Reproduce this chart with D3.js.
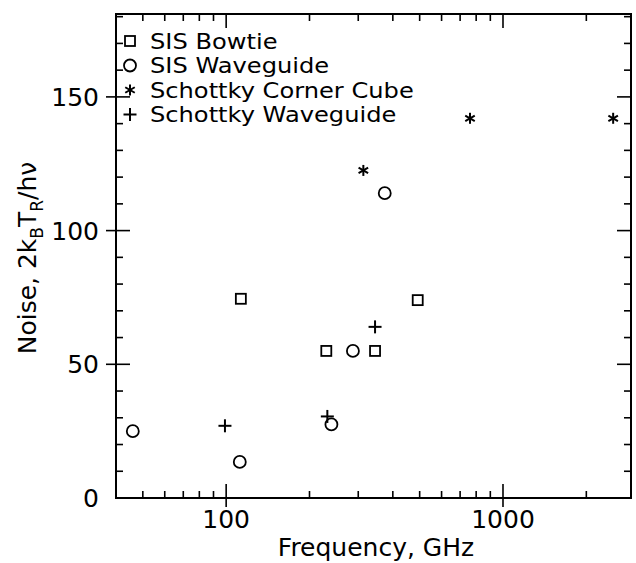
<!DOCTYPE html>
<html>
<head>
<meta charset="utf-8">
<script src="https://cdn.jsdelivr.net/npm/d3@7"></script>
<style>
  body { margin: 0; background: #fff; }
  text { font-family: 'DejaVu Sans', sans-serif; fill: #000; }
</style>
</head>
<body>
<svg id="chart" width="636" height="563"></svg>
<script>
// values (GHz, noise in units of hv/2k)
const sisBowtie = [[113, 74.5], [230, 55], [345, 55], [492, 74]]
const sisWaveguide = [[46, 25], [112, 13.5], [240, 27.5], [287, 55], [374, 114]]
const schottkyCube = [[313, 122.5], [760, 142], [2500, 142]]
const schottkyWaveguide = [[99, 27], [232, 30.5], [345, 64]]

const legendLabels = ['SIS Bowtie', 'SIS Waveguide', 'Schottky Corner Cube', 'Schottky Waveguide']
const xMajor = [100, 1000]
const xMinor = [40, 50, 60, 70, 80, 90, 200, 300, 400, 500, 600, 700, 800, 900, 2000]
const yMajor = [0, 50, 100, 150]
const yMinor = d3.range(10, 181, 10).filter(v => v % 50 !== 0)

const pLeft = 116, pRight = 631, pTop = 14, pBottom = 498
const fs = 25

const x = d3.scaleLog().domain([40, 2900]).range([pLeft, pRight])
const y = d3.scaleLinear().domain([0, 181]).range([pBottom, pTop])

const svg = d3.select('#chart')

// frame
svg.append('rect')
  .attr('x', pLeft).attr('y', pTop)
  .attr('width', pRight - pLeft).attr('height', pBottom - pTop)
  .attr('fill', 'none').attr('stroke', '#000').attr('stroke-width', 2)

const ticks = svg.append('g').attr('stroke', '#000').attr('stroke-width', 1.6)

// x ticks, bottom and top
xMinor.forEach(v => {
  ticks.append('line').attr('x1', x(v)).attr('x2', x(v)).attr('y1', pBottom).attr('y2', pBottom - 7)
  ticks.append('line').attr('x1', x(v)).attr('x2', x(v)).attr('y1', pTop).attr('y2', pTop + 7)
})
xMajor.forEach(v => {
  ticks.append('line').attr('x1', x(v)).attr('x2', x(v)).attr('y1', pBottom + 9).attr('y2', pBottom - 14)
  ticks.append('line').attr('x1', x(v)).attr('x2', x(v)).attr('y1', pTop).attr('y2', pTop + 14)
})

// y ticks, left and right
yMinor.forEach(v => {
  ticks.append('line').attr('x1', pLeft).attr('x2', pLeft + 7).attr('y1', y(v)).attr('y2', y(v))
  ticks.append('line').attr('x1', pRight).attr('x2', pRight - 7).attr('y1', y(v)).attr('y2', y(v))
})
yMajor.filter(v => v > 0).forEach(v => {
  ticks.append('line').attr('x1', pLeft - 10).attr('x2', pLeft + 14).attr('y1', y(v)).attr('y2', y(v))
  ticks.append('line').attr('x1', pRight).attr('x2', pRight - 14).attr('y1', y(v)).attr('y2', y(v))
})

// tick labels
svg.append('g').selectAll('text').data(xMajor).join('text')
  .attr('x', d => x(d)).attr('y', pBottom + 30)
  .attr('text-anchor', 'middle').attr('font-size', fs)
  .text(d => d)

svg.append('g').selectAll('text').data(yMajor).join('text')
  .attr('x', pLeft - 17).attr('y', d => y(d))
  .attr('dy', '0.36em')
  .attr('text-anchor', 'end').attr('font-size', fs)
  .text(d => d)

// axis titles
svg.append('text')
  .attr('x', 376).attr('y', 556)
  .attr('text-anchor', 'middle').attr('font-size', fs)
  .text('Frequency, GHz')

const yt = svg.append('text')
  .attr('transform', 'translate(36,' + 258 + ') rotate(-90)')
  .attr('text-anchor', 'middle').attr('font-size', fs)
yt.append('tspan').text('Noise, 2k')
yt.append('tspan').attr('font-size', 17).attr('dy', 7).text('B')
yt.append('tspan').attr('dy', -7).text('T')
yt.append('tspan').attr('font-size', 17).attr('dy', 7).text('R')
yt.append('tspan').attr('dy', -7).text('/h\u03bd')

// marker shapes
function square (g, cx, cy) {
  g.append('rect').attr('x', cx - 5).attr('y', cy - 5).attr('width', 10).attr('height', 10)
    .attr('fill', 'none').attr('stroke', '#000').attr('stroke-width', 1.8)
}
function circle (g, cx, cy) {
  g.append('circle').attr('cx', cx).attr('cy', cy).attr('r', 6)
    .attr('fill', 'none').attr('stroke', '#000').attr('stroke-width', 1.8)
}
function star (g, cx, cy) {
  const r = 5.5
  ;[90, 30, -30].forEach(a => {
    const t = a * Math.PI / 180
    g.append('line')
      .attr('x1', cx - r * Math.cos(t)).attr('y1', cy - r * Math.sin(t))
      .attr('x2', cx + r * Math.cos(t)).attr('y2', cy + r * Math.sin(t))
      .attr('stroke', '#000').attr('stroke-width', 2)
  })
}
function plus (g, cx, cy) {
  const r = 6.5
  g.append('line').attr('x1', cx - r).attr('x2', cx + r).attr('y1', cy).attr('y2', cy)
    .attr('stroke', '#000').attr('stroke-width', 2)
  g.append('line').attr('x1', cx).attr('x2', cx).attr('y1', cy - r).attr('y2', cy + r)
    .attr('stroke', '#000').attr('stroke-width', 2)
}

const series = [
  { data: sisBowtie, mark: square },
  { data: sisWaveguide, mark: circle },
  { data: schottkyCube, mark: star },
  { data: schottkyWaveguide, mark: plus }
]

const pts = svg.append('g')
series.forEach(s => {
  s.data.forEach(d => s.mark(pts, x(d[0]), y(d[1])))
})

// legend (font is wide in the reference, so stretch it a little)
const legend = svg.append('g')
series.forEach((s, i) => {
  const ly = 41 + i * 24.5
  s.mark(legend, 130, ly)
  legend.append('text')
    .attr('transform', 'translate(150,' + ly + ') scale(1.15,1)')
    .attr('dy', '0.36em')
    .attr('font-size', 21)
    .text(legendLabels[i])
})
</script>
</body>
</html>
